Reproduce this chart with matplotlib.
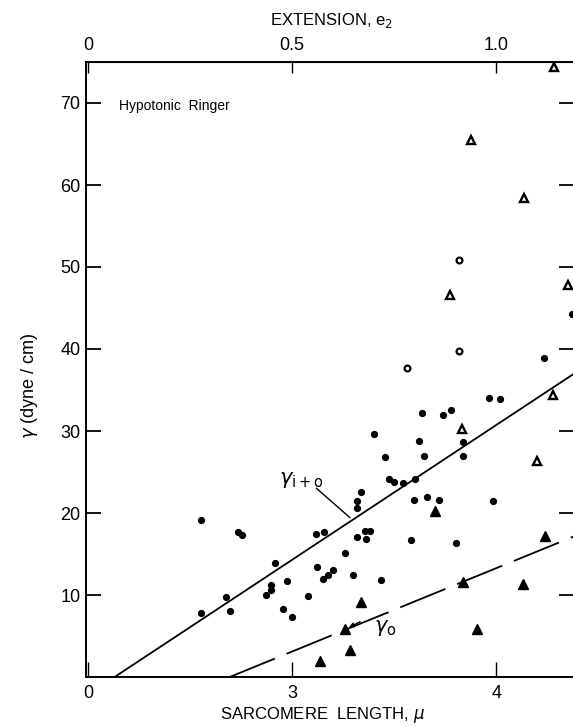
import numpy as np
import matplotlib
matplotlib.use('Agg')
import matplotlib.pyplot as plt

plt.rcParams['font.family'] = ['Liberation Sans', 'DejaVu Sans']
plt.rcParams['mathtext.fontset'] = 'dejavusans'

# filled circles: sarcomere length (mu), gamma (dyne/cm)
sl_dot = [2.555, 2.734, 2.756, 2.914, 2.674, 2.555, 2.697, 2.895, 2.895, 2.874,
          3.118, 3.154, 3.257, 3.119, 3.152, 3.175, 3.199, 2.972, 3.077, 2.957,
          2.998, 3.298, 3.437, 3.318, 3.359, 3.355, 3.380, 3.581, 3.339, 3.315,
          3.315, 3.400, 3.453, 3.475, 3.499, 3.543, 3.600, 3.597, 3.658, 3.620,
          3.645, 3.637, 3.739, 3.777, 3.962, 4.017, 3.837, 3.837, 3.718, 3.981,
          3.801, 4.233, 4.369]
g_dot = [19.2, 17.7, 17.3, 13.9, 9.7, 7.8, 8.0, 11.2, 10.6, 10.0,
         17.5, 17.7, 15.1, 13.4, 12.0, 12.4, 13.1, 11.7, 9.9, 8.3,
         7.3, 12.4, 11.8, 17.1, 16.8, 17.8, 17.8, 16.7, 22.6, 21.5,
         20.6, 29.6, 26.8, 24.2, 23.8, 23.7, 24.2, 21.6, 21.9, 28.8,
         26.9, 32.2, 32.0, 32.6, 34.0, 33.9, 28.7, 27.0, 21.6, 21.5,
         16.3, 38.9, 44.3]

# open circles
sl_ring = [3.818, 3.818, 3.561]
g_ring = [50.8, 39.7, 37.7]

# open triangles
sl_otri = [4.283, 3.875, 4.135, 4.349, 3.772, 4.275, 3.833, 4.199]
g_otri = [74.4, 65.5, 58.4, 47.8, 46.6, 34.4, 30.3, 26.3]

# filled triangles
sl_ftri = [3.699, 4.238, 3.837, 4.131, 3.903, 3.339, 3.257, 3.282, 3.135]
g_ftri = [20.2, 17.2, 11.6, 11.3, 5.8, 9.1, 5.9, 3.3, 1.9]

# fitted lines: (start length where gamma = 0, slope)
sl0_io, slope_io = 2.13, 16.44
sl0_o, slope_o = 2.694, 10.17

fig = plt.figure(figsize=(5.73, 7.27), dpi=100)
ax = fig.add_axes([86/573, 50/727, (574-86)/573, (677-62)/727])
xmin, xmax = 1.99, 4.38
ax.set_xlim(xmin, xmax)
ax.set_ylim(0, 75)

ax.plot(sl_dot, g_dot, 'o', color='black', ms=4.2, mec='black', zorder=3)
ax.plot(sl_ring, g_ring, 'o', mfc='white', mec='black', mew=1.6, ms=4.2, zorder=3)
ax.plot(sl_otri, g_otri, '^', mfc='white', mec='black', mew=1.7, ms=5.5, zorder=3)
ax.plot(sl_ftri, g_ftri, '^', color='black', ms=6.5, zorder=3)

x_io = np.array([xmin, sl0_io, xmax])
ax.plot(x_io, np.maximum(0, slope_io*(x_io - sl0_io)), color='black', lw=1.3, clip_on=False)
x_o = np.array([sl0_o, xmax])
ax.plot(x_o, slope_o*(x_o - sl0_o), color='black', lw=1.3, dashes=(27, 7))

ax.text(3.046, 24.0, r'$\gamma_{\rm i+o}$', fontsize=15, ha='center', va='center')
ax.plot([3.119, 3.282], [23.0, 19.45], color='black', lw=1.0)
ax.text(3.40, 6.0, r'$\gamma_{\rm o}$', fontsize=15, ha='left', va='center')
ax.annotate('', xy=(3.266, 5.9), xytext=(3.345, 6.9),
            arrowprops=dict(arrowstyle='-|>', color='black', lw=1.0, mutation_scale=7))

ax.text(2.15, 69.6, 'Hypotonic  Ringer', fontsize=10, ha='left', va='center')

ax.set_xticks([2.0, 3, 4])
ax.set_xticklabels(['0', '3', '4'])
ax.set_yticks([10, 20, 30, 40, 50, 60, 70])
ax.tick_params(axis='x', direction='in', length=11, width=1.0, labelsize=13, pad=6)
ax.tick_params(axis='y', direction='in', length=11, width=1.3, labelsize=13, pad=4,
               right=True)
for s in ax.spines.values():
    s.set_linewidth(1.4)

top = ax.secondary_xaxis('top', functions=(lambda x: (x - 2) / 2, lambda e: 2 + 2 * e))
top.set_xticks([0, 0.5, 1.0])
top.set_xticklabels(['0', '0.5', '1.0'])
top.tick_params(direction='in', length=8, width=1.0, labelsize=13, pad=6)

fig.text(0.578, 0.972, r'EXTENSION, e$_2$', fontsize=12, ha='center', va='center')
fig.text(0.562, 0.016, r'SARCOMERE  LENGTH, $\mu$', fontsize=12, ha='center', va='center')
fig.text(0.052, 0.47, r'$\gamma$ (dyne / cm)', fontsize=13, ha='center', va='center',
         rotation=90)

fig.savefig('out.png', dpi=100)
